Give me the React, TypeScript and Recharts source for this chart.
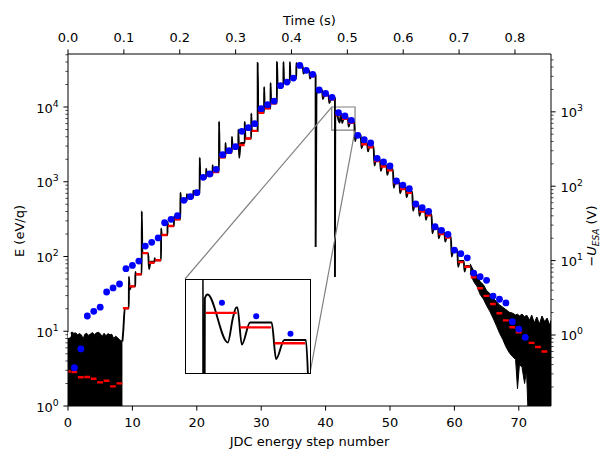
import React from 'react';
import { ComposedChart, Line, Area, XAxis, YAxis, ReferenceArea, ReferenceLine } from 'recharts';

const FONT = 'DejaVu Sans, sans-serif';
const W = 602;
const H = 452;
const PLOT = { left: 68, top: 54, right: 551, bottom: 406 };

const STEP_MAX = 75;
const TIME_MAX = 0.8645;
const E_DOMAIN: [number, number] = [1, 51200];
const U_DOMAIN: [number, number] = [0.111, 5990];

const stepTicks = [0, 10, 20, 30, 40, 50, 60, 70];
const timeTicks = [0, 0.1, 0.2, 0.3, 0.4, 0.5, 0.6, 0.7, 0.8];
const eDecades = [1, 10, 100, 1000, 10000];
const uDecades = [0.1, 1, 10, 100, 1000];

// mean level per energy step (red), steps 0..74
const redLevels = [
  2.9, 2.85, 2.42, 2.44, 2.32, 2.07, 2.18, 1.83, 2.01, 20.3,
  39.9, 57.8, 111, 82.6, 89, 194, 256, 315, 558, 615,
  690, 1122, 1220, 1350, 2125, 2450, 2825, 3100, 3800, 4800,
  8390, 9600, 11200, 19100, 21400, 24300, 34600, 30600, 26000, 16500,
  14300, 12700, 7780, 6970, 6170, 4100, 3170, 2900, 1895, 1600,
  1420, 960, 800, 710, 475, 400, 355, 238, 200, 180,
  118, 84, 73, 52.7, 37.6, 29.7, 23.2, 17.4, 14.0, 11.3,
  9.7, 7.96, 7.0, 6.15, 5.35,
];

// nominal energy per step (blue), steps 1..71
const blueStart = 1;
const blueLevels = [
  3.25, 5.8, 16, 18.5, 21, 33.5, 38, 42.9, 68.8, 76,
  87, 138, 155, 177, 283, 314, 351, 565, 631, 714,
  1147, 1270, 1466, 2300, 2607, 2945, 4730, 5290, 5980, 9490,
  10720, 12000, 19280, 21570, 24400, 36000, 31000, 27400, 16900, 15200,
  13460, 8400, 7590, 6640, 4180, 3650, 3300, 2060, 1840, 1625,
  1023, 904, 807, 504, 450, 402, 250, 224, 198, 122,
  109, 96, 60, 53.7, 48, 29.6, 26.8, 23.9, 13.4, 10.7,
  8.3,
];

// measured signal, clean part: steps 9..62
const traceStart = 9;
const traceLevel = [
  20.3, 39.9, 57.8, 111, 85, 89, 194, 256, 315, 558,
  615, 690, 1122, 1220, 1350, 2125, 2450, 2825, 3300, 3800,
  4800, 8390, 9600, 11200, 19100, 21400, 24300, 34600, 30600, 26500,
  16800, 14600, 13000, 8110, 7230, 6330, 4250, 3280, 3000, 1960,
  1650, 1470, 990, 830, 735, 490, 415, 368, 245, 207,
  186, 122, 87, 75,
];
const traceEdge: (number | null)[] = [
  null, 53.7, 62, 405, null, 95, 238, 290, 340, 714,
  680, 760, 2100, 1500, 1670, 6400, 3300, 4000, 5000, 6300,
  8200, 39000, 18500, 21000, 40000, 40000, 40000, 39000, null, null,
  134, null, null, 53, null, null, null, null, null, null,
  null, null, null, null, null, null, null, null, null, null,
  null, null, null, null,
];
const traceDip: (number | null)[] = [
  10, 36, null, null, 68, null, null, null, null, null,
  null, null, null, null, null, null, null, null, 2100, null,
  null, null, null, null, null, null, null, null, 28000, 24000,
  14500, 12800, 11300, null, 6110, 5470, 3500, 2800, 2550, 1650,
  1400, 1240, 830, 700, 620, 410, 350, 310, 205, 175,
  158, 100, 73, 63,
];
// ringing after the step into 42 (seen in the inset)
const ringStep = 42;
const ringX = [41.5, 41.58, 42.17, 42.32, 42.42];
const ringY = [8700, 8950, 6210, 7500, 8110];

// noise floor before the sweep starts
const noiseLeftX = [0, 0.3, 0.6, 0.9, 1.2, 1.5, 1.8, 2.1, 2.35, 2.6, 2.9, 3.2, 3.5, 3.8, 4.1, 4.4, 4.7, 5.0, 5.3, 5.6, 5.9, 6.2, 6.5, 6.8, 7.1, 7.4, 7.7, 8.0, 8.3, 8.45];
const noiseLeftTop = [9.6, 9.2, 9.8, 9.4, 9.5, 9.0, 9.3, 8.9, 7.9, 9.1, 9.4, 8.8, 9.2, 9.6, 9.0, 9.5, 9.7, 9.3, 8.5, 9.4, 8.7, 9.3, 9.0, 9.1, 8.0, 8.6, 8.2, 7.7, 7.4, 7.3];

// noisy tail at low energies
const noiseRightX = [62.45, 63, 63.5, 64, 64.5, 65, 65.5, 66, 66.5, 67, 67.5, 68, 68.5, 69, 69.5, 69.8, 70.1, 70.5, 70.9, 71.2, 71.4, 71.7, 72, 72.4, 72.8, 73.2, 73.6, 74, 74.4, 74.8, 75];
const noiseRightLow = [60, 46, 40, 31, 27, 22, 18.5, 15, 12, 9.5, 7.8, 6.2, 5.2, 4.6, 4.2, 1.7, 3.6, 3.3, 2.0, 3.0, 1, 1, 1, 1, 1, 1, 1, 1, 1, 1, 1];
const noiseRightHigh = [80, 64, 57, 46, 42, 35, 32, 28, 25, 22.5, 21, 19.5, 18, 17.5, 16.5, 17, 16, 17, 15.5, 16.5, 15.5, 14, 16.5, 13, 15.5, 12.5, 16, 13.5, 15, 12, 14];

// zoomed region
const zoomX: [number, number] = [40.95, 44.57];
const zoomE: [number, number] = [4920, 10000];
const INSET = { left: 185, top: 279, right: 310, bottom: 373 };

const tracePoints: { x: number; y: number }[] = [{ x: 8.45, y: 7.3 }];
traceLevel.forEach((lvl, i) => {
  const n = traceStart + i;
  const edge = traceEdge[i];
  const dip = traceDip[i];
  if (edge != null) tracePoints.push({ x: n - 0.545, y: edge });
  if (n === ringStep) {
    ringX.forEach((x, k) => tracePoints.push({ x, y: ringY[k] }));
  } else {
    if (dip != null) tracePoints.push({ x: n - 0.42, y: dip });
    tracePoints.push({ x: n - (dip != null ? 0.18 : 0.45), y: lvl });
  }
  tracePoints.push({ x: n + 0.45, y: lvl });
});

const redPoints: { x: number; r: number | null }[] = [];
redLevels.forEach((v, i) => {
  redPoints.push({ x: i - 0.47, r: v }, { x: i + 0.43, r: v }, { x: i + 0.44, r: null });
});

const bluePoints = blueLevels.map((v, i) => ({ x: blueStart + i, b: v }));
const leftNoise = noiseLeftX.map((x, i) => ({ x, band: [E_DOMAIN[0], noiseLeftTop[i]] }));
const rightNoise = noiseRightX.map((x, i) => ({ x, band: [noiseRightLow[i], noiseRightHigh[i]] }));
const timeAnchor = [{ x: 0, u: 1 }];

const logTicks = (decades: number[], lo: number, hi: number) => {
  const out: number[] = [];
  decades.forEach((d) => {
    for (let m = 1; m <= 9; m++) {
      const v = +(d * m).toPrecision(3);
      if (v >= lo && v <= hi) out.push(v);
    }
  });
  return out;
};
const eTicks = logTicks(eDecades, E_DOMAIN[0], E_DOMAIN[1]);
const uTicks = logTicks(uDecades, U_DOMAIN[0], U_DOMAIN[1]);

// inverse of the main plot scales, used to anchor the inset connectors
const stepAtPx = (px: number) => ((px - PLOT.left) / (PLOT.right - PLOT.left)) * STEP_MAX;
const eAtPx = (py: number) =>
  E_DOMAIN[0] * Math.pow(E_DOMAIN[1] / E_DOMAIN[0], (PLOT.bottom - py) / (PLOT.bottom - PLOT.top));

const LogTick = (props: any) => {
  const { y, payload, side } = props;
  const v = payload.value;
  const lg = Math.log10(v);
  const exp = Math.round(lg);
  const major = Math.abs(lg - exp) < 1e-6;
  const x0 = side === 'left' ? PLOT.left : PLOT.right;
  const dir = side === 'left' ? -1 : 1;
  const len = major ? 4.6 : 2.6;
  return (
    <g>
      <line x1={x0} x2={x0 + dir * len} y1={y} y2={y} stroke="#000" strokeWidth={major ? 1 : 0.7} />
      {major && (
        <text
          x={x0 + dir * 9.4}
          y={y + 5.5}
          textAnchor={side === 'left' ? 'end' : 'start'}
          fontSize={13}
          fontFamily={FONT}
          fill="#000"
        >
          10
          <tspan dy={-6} fontSize={9.3}>
            {exp}
          </tspan>
        </text>
      )}
    </g>
  );
};

const tickStyle = { fill: '#000', fontSize: 13, fontFamily: FONT };

export default function App() {
  return (
    <div style={{ position: 'absolute', left: 0, top: 0, width: W, height: H, background: '#fff', fontFamily: FONT }}>
      <ComposedChart width={W} height={H} margin={{ top: 24, right: 0, bottom: 0, left: 0 }}>
        <XAxis
          xAxisId="step"
          dataKey="x"
          type="number"
          domain={[0, STEP_MAX]}
          allowDataOverflow
          ticks={stepTicks}
          interval={0}
          height={46}
          tickSize={4.6}
          tickMargin={7}
          stroke="#000"
          tick={tickStyle}
        />
        <XAxis
          xAxisId="time"
          dataKey="x"
          type="number"
          orientation="top"
          domain={[0, TIME_MAX]}
          allowDataOverflow
          ticks={timeTicks}
          interval={0}
          height={30}
          tickSize={4.6}
          tickMargin={7}
          stroke="#000"
          tick={tickStyle}
          tickFormatter={(v: number) => v.toFixed(1)}
        />
        <YAxis
          yAxisId="E"
          type="number"
          scale="log"
          domain={E_DOMAIN}
          allowDataOverflow
          ticks={eTicks}
          interval={0}
          width={68}
          tickLine={false}
          axisLine={{ stroke: '#000' }}
          tick={(p: any) => <LogTick {...p} side="left" />}
        />
        <YAxis
          yAxisId="U"
          orientation="right"
          type="number"
          scale="log"
          domain={U_DOMAIN}
          allowDataOverflow
          ticks={uTicks}
          interval={0}
          width={51}
          tickLine={false}
          axisLine={{ stroke: '#000' }}
          tick={(p: any) => <LogTick {...p} side="right" />}
        />
        <Line
          xAxisId="time"
          yAxisId="U"
          data={timeAnchor}
          dataKey="u"
          stroke="none"
          dot={false}
          activeDot={false}
          isAnimationActive={false}
        />
        <Area
          xAxisId="step"
          yAxisId="E"
          data={leftNoise}
          dataKey="band"
          type="linear"
          stroke="#000"
          strokeWidth={1}
          fill="#000"
          fillOpacity={1}
          isAnimationActive={false}
        />
        <Area
          xAxisId="step"
          yAxisId="E"
          data={rightNoise}
          dataKey="band"
          type="linear"
          stroke="#000"
          strokeWidth={1}
          fill="#000"
          fillOpacity={1}
          isAnimationActive={false}
        />
        <Line
          xAxisId="step"
          yAxisId="E"
          data={tracePoints}
          dataKey="y"
          type="monotone"
          stroke="#000"
          strokeWidth={1.9}
          dot={false}
          activeDot={false}
          isAnimationActive={false}
        />
        <Line
          xAxisId="step"
          yAxisId="E"
          data={redPoints}
          dataKey="r"
          type="linear"
          stroke="#ff0000"
          strokeWidth={2.4}
          dot={false}
          activeDot={false}
          isAnimationActive={false}
        />
        <Line
          xAxisId="step"
          yAxisId="E"
          data={bluePoints}
          dataKey="b"
          stroke="none"
          dot={{ r: 3.4, fill: '#0000ff', stroke: 'none', strokeWidth: 0 }}
          activeDot={false}
          isAnimationActive={false}
        />
        <ReferenceArea
          xAxisId="step"
          yAxisId="E"
          x1={zoomX[0]}
          x2={zoomX[1]}
          y1={zoomE[0]}
          y2={zoomE[1]}
          stroke="#808080"
          strokeWidth={1.2}
          fill="none"
          fillOpacity={0}
          ifOverflow="visible"
        />
        <ReferenceLine
          xAxisId="step"
          yAxisId="E"
          segment={[
            { x: zoomX[0], y: zoomE[1] },
            { x: stepAtPx(INSET.left), y: eAtPx(INSET.top) },
          ]}
          stroke="#808080"
          strokeWidth={1.2}
          ifOverflow="visible"
        />
        <ReferenceLine
          xAxisId="step"
          yAxisId="E"
          segment={[
            { x: zoomX[1], y: zoomE[0] },
            { x: stepAtPx(INSET.right), y: eAtPx(INSET.bottom) },
          ]}
          stroke="#808080"
          strokeWidth={1.2}
          ifOverflow="visible"
        />
      </ComposedChart>

      <div
        style={{
          position: 'absolute',
          left: INSET.left,
          top: INSET.top,
          width: INSET.right - INSET.left + 1,
          height: INSET.bottom - INSET.top + 1,
          border: '1px solid #000',
          boxSizing: 'border-box',
          background: '#fff',
        }}
      >
        <ComposedChart
          width={INSET.right - INSET.left - 1}
          height={INSET.bottom - INSET.top - 1}
          margin={{ top: 0, right: 0, bottom: 0, left: 0 }}
        >
          <XAxis xAxisId="z" dataKey="x" type="number" domain={zoomX} allowDataOverflow hide />
          <YAxis yAxisId="z" type="number" scale="log" domain={zoomE} allowDataOverflow hide />
          <Line
            xAxisId="z"
            yAxisId="z"
            data={tracePoints}
            dataKey="y"
            type="monotone"
            stroke="#000"
            strokeWidth={1.9}
            dot={false}
            activeDot={false}
            isAnimationActive={false}
          />
          <Line
            xAxisId="z"
            yAxisId="z"
            data={redPoints}
            dataKey="r"
            type="linear"
            stroke="#ff0000"
            strokeWidth={2.4}
            dot={false}
            activeDot={false}
            isAnimationActive={false}
          />
          <Line
            xAxisId="z"
            yAxisId="z"
            data={bluePoints}
            dataKey="b"
            stroke="none"
            dot={{ r: 3, fill: '#0000ff', stroke: 'none', strokeWidth: 0 }}
            activeDot={false}
            isAnimationActive={false}
          />
        </ComposedChart>
      </div>

      <svg width={W} height={H} style={{ position: 'absolute', left: 0, top: 0, pointerEvents: 'none' }}>
        <text x={(PLOT.left + PLOT.right) / 2} y={24.5} textAnchor="middle" fontSize={13} fontFamily={FONT} fill="#000">
          Time (s)
        </text>
        <text x={(PLOT.left + PLOT.right) / 2} y={446} textAnchor="middle" fontSize={13} fontFamily={FONT} fill="#000">
          JDC energy step number
        </text>
        <text
          x={24}
          y={231}
          transform="rotate(-90 24 231)"
          textAnchor="middle"
          fontSize={13}
          fontFamily={FONT}
          fill="#000"
        >
          E (eV/q)
        </text>
        <text
          x={596}
          y={236}
          transform="rotate(-90 596 236)"
          textAnchor="middle"
          fontSize={13}
          fontFamily={FONT}
          fill="#000"
        >
          −<tspan fontStyle="italic">U</tspan>
          <tspan dy={3} fontSize={9} fontStyle="italic">
            ESA
          </tspan>
          <tspan dy={-3}> (V)</tspan>
        </text>
      </svg>
    </div>
  );
}
